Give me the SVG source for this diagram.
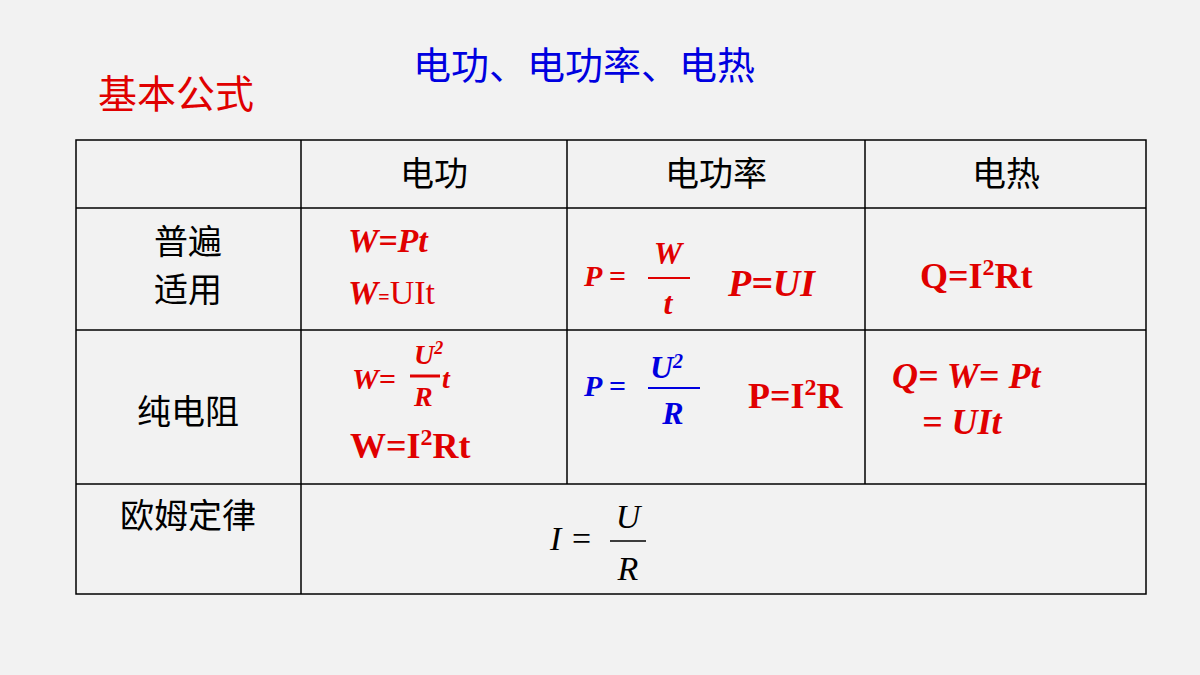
<svg xmlns="http://www.w3.org/2000/svg" width="1200" height="675" viewBox="0 0 1200 675">
<style>
.cn{font-family:"Noto Sans CJK SC","Noto Sans",sans-serif;font-size:34px;fill:#000}
.r{fill:#e00000;font-family:"Liberation Serif",serif;font-weight:bold}
.b{fill:#0000e0;font-family:"Liberation Serif",serif;font-weight:bold}
.i{font-style:italic}
.ln{stroke:#000;stroke-width:1.5}
</style>
<rect width="1200" height="675" fill="#f2f2f2"/>
<text x="584" y="79" text-anchor="middle" font-family="Noto Sans CJK SC,sans-serif" font-size="38" fill="#0000e0">电功、电功率、电热</text>
<text x="98" y="108" font-family="Noto Sans CJK SC,sans-serif" font-size="39" fill="#e00000">基本公式</text>
<g id="table" fill="none">
<rect x="76" y="140" width="1070" height="454" class="ln"/>
<line x1="301" y1="140" x2="301" y2="594" class="ln"/>
<line x1="567" y1="140" x2="567" y2="484" class="ln"/>
<line x1="865" y1="140" x2="865" y2="484" class="ln"/>
<line x1="76" y1="208" x2="1146" y2="208" class="ln"/>
<line x1="76" y1="330" x2="1146" y2="330" class="ln"/>
<line x1="76" y1="484" x2="1146" y2="484" class="ln"/>
</g>
<g id="headers">
<text x="434" y="186" text-anchor="middle" class="cn">电功</text>
<text x="716" y="186" text-anchor="middle" class="cn">电功率</text>
<text x="1006" y="186" text-anchor="middle" class="cn">电热</text>
<text x="188" y="254" text-anchor="middle" class="cn">普遍</text>
<text x="188" y="302" text-anchor="middle" class="cn">适用</text>
<text x="188" y="424" text-anchor="middle" class="cn">纯电阻</text>
<text x="188" y="528" text-anchor="middle" class="cn">欧姆定律</text>
</g>
<g id="c11">
<text x="348" y="252" font-size="34" class="r i">W=Pt</text>
<text x="348" y="304" font-size="34" fill="#e00000" font-family="Liberation Serif,serif"><tspan font-weight="bold" font-style="italic">W</tspan><tspan font-size="20" font-weight="bold">=</tspan>UIt</text>
</g>
<g id="c12">
<text x="584" y="286" font-size="30" class="r i">P =</text>
<text x="668" y="264" font-size="32" text-anchor="middle" class="r i">W</text>
<line x1="648" y1="278" x2="690" y2="278" stroke="#e00000" stroke-width="2"/>
<text x="668" y="314" font-size="32" text-anchor="middle" class="r i">t</text>
<text x="728" y="296" font-size="38" class="r i">P=UI</text>
</g>
<g id="c13">
<text x="920" y="288" font-size="36" class="r">Q=I<tspan font-size="24" dy="-13">2</tspan><tspan dy="13">Rt</tspan></text>
</g>
<g id="c21">
<text x="352" y="389" font-size="30" class="r i">W=</text>
<text x="414" y="364" font-size="28" class="r i">U<tspan font-size="18" dy="-10">2</tspan></text>
<line x1="410" y1="376" x2="440" y2="376" stroke="#e00000" stroke-width="3"/>
<text x="414" y="406" font-size="28" class="r i">R</text>
<text x="442" y="388" font-size="28" class="r i">t</text>
<text x="350" y="458" font-size="36" class="r">W=I<tspan font-size="24" dy="-13">2</tspan><tspan dy="13">Rt</tspan></text>
</g>
<g id="c22">
<text x="584" y="396" font-size="30" class="b i">P =</text>
<text x="650" y="378" font-size="32" class="b i">U<tspan font-size="20" dy="-10">2</tspan></text>
<line x1="648" y1="388" x2="700" y2="388" stroke="#0000e0" stroke-width="2"/>
<text x="673" y="424" font-size="32" text-anchor="middle" class="b i">R</text>
<text x="748" y="408" font-size="36" class="r">P=I<tspan font-size="24" dy="-13">2</tspan><tspan dy="13">R</tspan></text>
</g>
<g id="c23">
<text x="892" y="388" font-size="36" class="r i">Q= W= Pt</text>
<text x="922" y="434" font-size="36" class="r i">= UIt</text>
</g>
<g id="c3">
<text x="550" y="550" font-size="34" font-family="Liberation Serif,serif" font-style="italic">I =</text>
<text x="628" y="528" font-size="34" text-anchor="middle" font-family="Liberation Serif,serif" font-style="italic">U</text>
<line x1="610" y1="541" x2="646" y2="541" stroke="#000" stroke-width="1.5"/>
<text x="628" y="580" font-size="34" text-anchor="middle" font-family="Liberation Serif,serif" font-style="italic">R</text>
</g>
</svg>
